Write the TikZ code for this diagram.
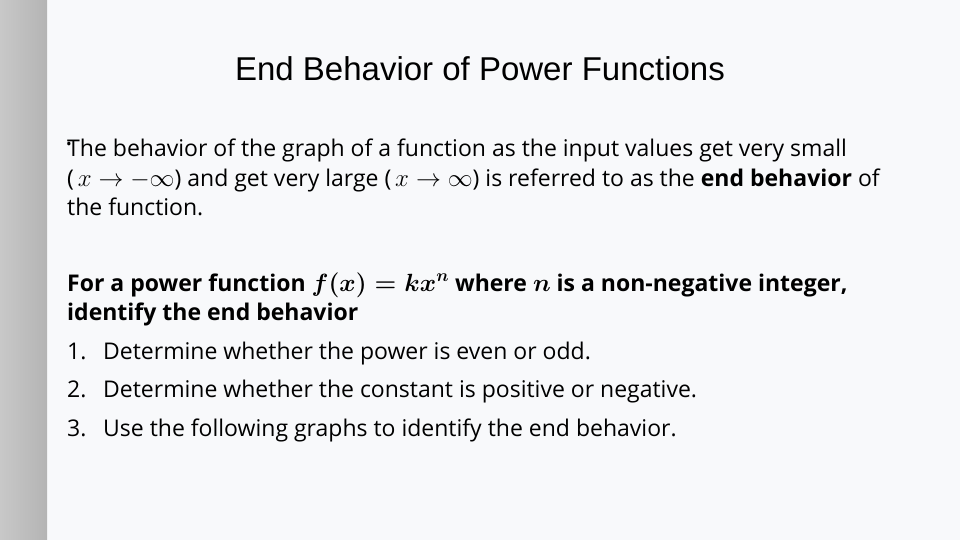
\documentclass[tikz,border=0pt]{standalone}
\usepackage{fontspec}
\setmainfont{Open Sans}
\newfontfamily\titlefont{Liberation Sans}
\usepackage{amsmath}
\definecolor{slidebg}{HTML}{F8F9FB}
\definecolor{barl}{HTML}{C8C8C8}
\definecolor{barr}{HTML}{B4B4B4}
\begin{document}
\begin{tikzpicture}[x=1pt,y=-1pt,
  body/.style={anchor=base west, inner sep=0pt, font=\fontsize{23}{27}\selectfont},
  title/.style={anchor=base, inner sep=0pt, font=\titlefont\fontsize{33}{38}\selectfont}]

% slide background and side bar
\fill[slidebg] (0,0) rectangle (960,540);
\shade[left color=barl, right color=barr] (0,0) rectangle (47,540);
\useasboundingbox (0,0) rectangle (960,540);

% title
\node[title] (head) at (480,81) {End Behavior of Power Functions};

% definition paragraph
\node[body, font=\fontsize{15}{15}\selectfont] (dot) at (66,150) {•};
\node[body] (def1) at (67,157) {The behavior of the graph of a function as the input values get very small};
\node[body] (def2) at (67,186) {(\,$x\rightarrow-\infty$) and get very large (\,$x\rightarrow\infty$) is referred to as the \textbf{end behavior} of};
\node[body] (def3) at (67,215) {the function.};

% rule
\node[body] (rule1) at (67,291) {\textbf{For a power function $\boldsymbol{f(x)=kx^{n}}$ where $\boldsymbol{n}$ is a non-negative integer,}};
\node[body] (rule2) at (67,320) {\textbf{identify the end behavior}};

% steps
\foreach \k/\y/\txt in {1/359/Determine whether the power is even or odd.,
                        2/397/Determine whether the constant is positive or negative.,
                        3/436/Use the following graphs to identify the end behavior.}{
  \node[body] (num\k) at (67,\y) {\k.};
  \node[body] (step\k) at (103,\y) {\txt};
}
\end{tikzpicture}
\end{document}
